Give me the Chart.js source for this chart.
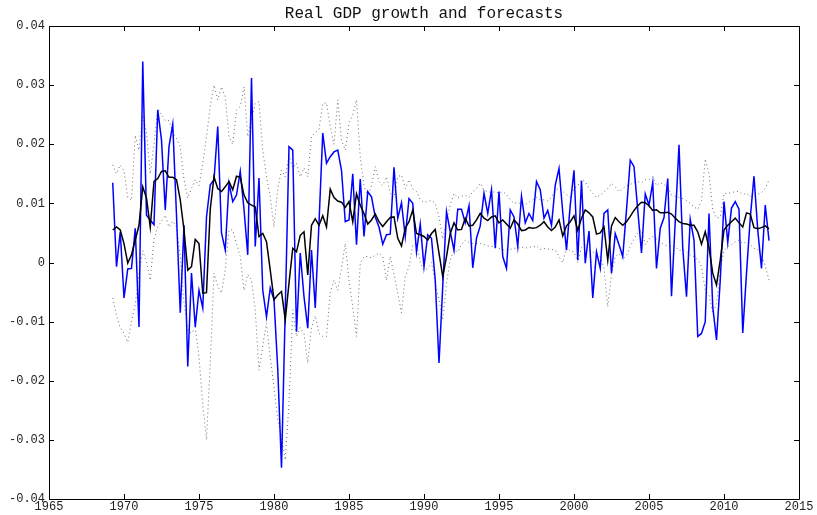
<!DOCTYPE html>
<html>
<head>
<meta charset="utf-8">
<script src="https://cdn.jsdelivr.net/npm/chart.js@4/dist/chart.umd.min.js"></script>
<style>
  html, body { margin: 0; padding: 0; background: #fff; }
  #wrap { width: 817px; height: 515px; }
</style>
</head>
<body>
<div id="wrap"><canvas id="c" width="817" height="515"></canvas></div>
<script>
// Quarterly real GDP growth (log-difference), 1969Q2 - 2013Q1
const startYear = 1969.25;
const quarterStep = 0.25;

const actual = [
  0.0135, -0.0007, 0.0052, -0.006, -0.0011, -0.001, 0.0058, -0.0109, 0.034, 0.008,
  0.0072, 0.0064, 0.0258, 0.0207, 0.0089, 0.0196, 0.0234, 0.008, -0.0085, 0.0063,
  -0.0176, -0.0018, -0.0109, -0.0047, -0.0077, 0.0077, 0.0131, 0.014, 0.023, 0.005,
  0.0021, 0.0134, 0.0103, 0.0114, 0.0154, 0.009, 0.0013, 0.0312, 0.0027, 0.0143,
  -0.0047, -0.0092, -0.0043, -0.0063, -0.018, -0.0347, -0.008, 0.0196, 0.019, -0.0117,
  0.0016, -0.0058, -0.0111, 0.0021, -0.0077, 0.0067, 0.0219, 0.0168, 0.0179, 0.0187,
  0.019, 0.0156, 0.0069, 0.0072, 0.015, 0.003, 0.0141, 0.0044, 0.012, 0.0111,
  0.0077, 0.006, 0.0031, 0.0047, 0.0048, 0.0161, 0.0075, 0.0101, 0.0044, 0.0108,
  0.01, 0.0018, 0.0065, -0.0007, 0.0047, 0.0041, -0.003, -0.017, -0.004, 0.0086,
  0.0052, 0.0021, 0.009, 0.009, 0.0067, 0.0096, -0.0009, 0.0041, 0.0062, 0.0117,
  0.0083, 0.0123, 0.0024, 0.012, 0.001, -0.001, 0.0089, 0.0077, 0.0027, 0.0112,
  0.0067, 0.0083, 0.0071, 0.0137, 0.0123, 0.0075, 0.0088, 0.0063, 0.0131, 0.0159,
  0.0085, 0.0021, 0.0097, 0.0156, 0.0004, 0.0138, -0.0001, 0.0053, -0.006, 0.0018,
  -0.001, 0.0083, 0.0089, -0.0018, 0.0049, 0.003, 0.001, 0.0089, 0.0173, 0.0162,
  0.0089, 0.0016, 0.0116, 0.0097, 0.0135, -0.001, 0.0058, 0.0076, 0.0142, -0.0057,
  0.007, 0.0199, 0.0024, -0.0058, 0.0073, 0.0038, -0.0125, -0.012, -0.01, 0.0083,
  -0.0075, -0.0131, -0.003, 0.0103, 0.0034, 0.0092, 0.0103, 0.009, -0.0119, -0.0018,
  0.0075, 0.0146, 0.0055, -0.001, 0.0097, 0.0037
];

const forecast = [
  0.0055, 0.006, 0.0055, 0.0032, -0.0001, 0.0013, 0.0038, 0.0063, 0.0128, 0.0109,
  0.006, 0.0137, 0.0142, 0.0154, 0.0155, 0.0144, 0.0144, 0.014, 0.0106, 0.0055,
  -0.0013, -0.0007, 0.0039, 0.0032, -0.0052, -0.0051, 0.009, 0.0145, 0.0125, 0.012,
  0.0128, 0.0137, 0.0123, 0.0146, 0.0144, 0.0114, 0.0101, 0.0097, 0.0094, 0.0044,
  0.0049, 0.0035, -0.0013, -0.0063, -0.0055, -0.0049, -0.0097, -0.0035, 0.0024, 0.0018,
  0.0046, 0.0052, -0.0021, 0.0063, 0.0074, 0.0063, 0.0079, 0.006, 0.0124, 0.011,
  0.0104, 0.0102, 0.0093, 0.0103, 0.0069, 0.0116, 0.0097, 0.0083, 0.0065, 0.0072,
  0.0082, 0.0069, 0.0061, 0.0069, 0.0076, 0.0077, 0.0041, 0.0028, 0.0058, 0.0069,
  0.0089, 0.0049, 0.0047, 0.0044, 0.0038, 0.0049, 0.0056, 0.0016, -0.0024, 0.001,
  0.0049, 0.0067, 0.0055, 0.0056, 0.0075, 0.0062, 0.0063, 0.0072, 0.0083, 0.0075,
  0.0071, 0.0077, 0.0079, 0.0067, 0.0072, 0.0065, 0.0058, 0.0072, 0.0065, 0.0054,
  0.0055, 0.0059, 0.0058, 0.0059, 0.0063, 0.0069, 0.006, 0.0054, 0.006, 0.0072,
  0.0045, 0.0062, 0.0069, 0.0079, 0.0054, 0.0075, 0.0089, 0.0084, 0.0077, 0.0048,
  0.005, 0.006, 0.0004, 0.0062, 0.0076, 0.0069, 0.0063, 0.0069, 0.0078, 0.0088,
  0.0096, 0.0102, 0.0101, 0.0096, 0.0088, 0.0089, 0.0084, 0.0084, 0.0085, 0.0082,
  0.0075, 0.0069, 0.0066, 0.0065, 0.0063, 0.0063, 0.0052, 0.0031, 0.0052, 0.0025,
  -0.0018, -0.0038, 0.0004, 0.0055, 0.0063, 0.0069, 0.0075, 0.0067, 0.006, 0.0084,
  0.0082, 0.0059, 0.0057, 0.0059, 0.0062, 0.0057
];

const upperBand = [
  0.0165, 0.015, 0.0165, 0.0155, 0.011, 0.0105, 0.0215, 0.019, 0.025, 0.022,
  0.015, 0.02, 0.026, 0.025, 0.024, 0.024, 0.022, 0.021, 0.0196, 0.014,
  0.0109, 0.0125, 0.014, 0.013, 0.0168, 0.0213, 0.0264, 0.03, 0.0275, 0.0297,
  0.028, 0.0213, 0.02, 0.0258, 0.0264, 0.0297, 0.0213, 0.024, 0.0269, 0.0272,
  0.019, 0.0145, 0.0111, 0.006, 0.0125, 0.0156, 0.0145, 0.018, 0.016, 0.0168,
  0.0145, 0.016, 0.0145, 0.0213, 0.022, 0.0225, 0.0269, 0.027, 0.023, 0.02,
  0.0275, 0.0207, 0.019, 0.0235, 0.025, 0.0275, 0.0179, 0.013, 0.0111, 0.013,
  0.0162, 0.0137, 0.013, 0.0145, 0.0117, 0.011, 0.0145, 0.0148, 0.0125, 0.014,
  0.0125, 0.012, 0.0106, 0.0102, 0.0103, 0.0105, 0.01, 0.0077, 0.004, 0.007,
  0.0097, 0.0117, 0.011, 0.0112, 0.0114, 0.011, 0.012, 0.0125, 0.0134, 0.0122,
  0.012, 0.0118, 0.012, 0.0117, 0.012, 0.0115, 0.0106, 0.01, 0.0102, 0.0097,
  0.0098, 0.0102, 0.0106, 0.011, 0.0106, 0.0106, 0.0104, 0.011, 0.0123, 0.0125,
  0.012, 0.0115, 0.011, 0.0125, 0.013, 0.014, 0.0137, 0.0125, 0.0117, 0.011,
  0.0114, 0.012, 0.0125, 0.0134, 0.0128, 0.012, 0.0125, 0.013, 0.0132, 0.0135,
  0.0137, 0.0135, 0.014, 0.014, 0.0145, 0.013, 0.0135, 0.0132, 0.0128, 0.0114,
  0.0112, 0.011, 0.0108, 0.0105, 0.01, 0.0094, 0.009, 0.0105, 0.0175, 0.015,
  0.009, 0.0075, 0.0077, 0.0117, 0.0117, 0.0118, 0.012, 0.012, 0.0115, 0.0117,
  0.0112, 0.0112, 0.0115, 0.0118, 0.0125, 0.014
];

const lowerBand = [
  -0.006, -0.009, -0.011, -0.012, -0.0135, -0.01, -0.007, -0.002, 0.002, 0.0,
  -0.003, 0.004, 0.006, 0.007, 0.008, 0.006, 0.007, 0.006, 0.001, -0.0069,
  -0.0114, -0.012, -0.011, -0.016, -0.024, -0.03, -0.017, -0.0018, -0.004, -0.0052,
  -0.0013, 0.0055, 0.0055, 0.0032, 0.001, -0.0047, -0.002, -0.003, -0.008, -0.0182,
  -0.014, -0.0103, -0.016, -0.021, -0.0266, -0.0295, -0.0334, -0.0238, -0.008, -0.0125,
  -0.011, -0.012, -0.017, -0.011, -0.009, -0.012, -0.0125, -0.0125, -0.005, -0.003,
  -0.0047, -0.001, 0.0032, -0.003, -0.0075, -0.0125, -0.0001, 0.001, 0.001, 0.0008,
  0.0012, 0.0016, 0.001, -0.003, 0.001, -0.002, -0.0052, -0.0085, -0.0024, -0.0007,
  0.003, 0.0032, 0.0, -0.0013, -0.001, 0.0, -0.0035, -0.0063, -0.0097, -0.0035,
  0.0004, 0.0021, 0.0018, 0.003, 0.0038, 0.0034, 0.0032, 0.0032, 0.0032, 0.003,
  0.0028, 0.0027, 0.0028, 0.0024, 0.0022, 0.0021, 0.0022, 0.0024, 0.0024, 0.0026,
  0.0024, 0.0026, 0.0026, 0.0028, 0.0022, 0.0024, 0.0023, 0.0022, 0.0021, 0.001,
  0.0, 0.0025, 0.002, 0.0018, 0.0, 0.0025, 0.003, 0.0022, 0.0018, 0.0015,
  0.001, -0.001, -0.0075, -0.002, 0.001, 0.0015, 0.0005, 0.0012, 0.0027, 0.004,
  0.005, 0.0055, 0.003, 0.004, 0.0044, 0.004, 0.0035, 0.003, 0.0028, 0.0027,
  0.0027, 0.002, 0.0022, 0.0018, 0.0012, 0.001, 0.0005, -0.0007, -0.0047, -0.0055,
  -0.0086, -0.007, -0.0013, 0.002, 0.0027, 0.003, 0.0035, 0.0038, 0.0032, 0.0035,
  0.003, 0.0024, 0.0022, 0.0012, -0.0005, -0.003
];

const xTicks = [1965, 1970, 1975, 1980, 1985, 1990, 1995, 2000, 2005, 2010, 2015];
const yTicks = [-0.04, -0.03, -0.02, -0.01, 0, 0.01, 0.02, 0.03, 0.04];

const quarters = actual.map((_, i) => startYear + i * quarterStep);
const toPoints = arr => arr.map((v, i) => ({ x: quarters[i], y: v }));

const MONO = "'Liberation Mono', 'DejaVu Sans Mono', monospace";

// Box frame plus inward-pointing tick marks on all four sides
const frameTicks = {
  id: 'frameTicks',
  afterDraw(chart) {
    const { ctx, chartArea: a, scales: { x, y } } = chart;
    const len = 5;
    ctx.save();
    ctx.strokeStyle = '#000';
    ctx.lineWidth = 1;
    ctx.beginPath();
    ctx.rect(Math.round(a.left) + 0.5, Math.round(a.top) + 0.5,
             Math.round(a.right - a.left), Math.round(a.bottom - a.top));
    ctx.stroke();
    ctx.beginPath();
    xTicks.forEach(t => {
      const px = Math.round(x.getPixelForValue(t)) + 0.5;
      ctx.moveTo(px, a.bottom); ctx.lineTo(px, a.bottom - len);
      ctx.moveTo(px, a.top); ctx.lineTo(px, a.top + len);
    });
    yTicks.forEach(t => {
      const py = Math.round(y.getPixelForValue(t)) + 0.5;
      ctx.moveTo(a.left, py); ctx.lineTo(a.left + len, py);
      ctx.moveTo(a.right, py); ctx.lineTo(a.right - len, py);
    });
    ctx.stroke();
    ctx.restore();
  }
};

new Chart(document.getElementById('c'), {
  type: 'line',
  data: {
    datasets: [
      {
        label: 'Forecast',
        data: toPoints(forecast),
        borderColor: '#000000',
        borderWidth: 1.5,
        pointRadius: 0,
        tension: 0,
        order: 0
      },
      {
        label: 'Actual',
        data: toPoints(actual),
        borderColor: '#0000ff',
        borderWidth: 1.5,
        pointRadius: 0,
        tension: 0,
        order: 1
      },
      {
        label: 'Upper band',
        data: toPoints(upperBand),
        borderColor: 'rgba(60,60,60,0.75)',
        borderWidth: 1,
        borderDash: [1, 3],
        pointRadius: 0,
        tension: 0,
        order: 2
      },
      {
        label: 'Lower band',
        data: toPoints(lowerBand),
        borderColor: 'rgba(60,60,60,0.75)',
        borderWidth: 1,
        borderDash: [1, 3],
        pointRadius: 0,
        tension: 0,
        order: 3
      }
    ]
  },
  options: {
    responsive: false,
    animation: false,
    devicePixelRatio: 1,
    layout: { padding: { left: 0, right: 18, top: 0, bottom: 0 } },
    plugins: {
      legend: { display: false },
      tooltip: { enabled: false },
      title: {
        display: true,
        fullSize: false,
        text: 'Real GDP growth and forecasts',
        color: '#111',
        font: { family: MONO, size: 16, weight: 'normal', lineHeight: 1.2 },
        padding: { top: 4, bottom: 2.8 }
      }
    },
    scales: {
      x: {
        type: 'linear',
        min: 1965,
        max: 2015,
        afterBuildTicks(scale) { scale.ticks = xTicks.map(v => ({ value: v })); },
        afterFit(scale) { scale.height = 16; },
        grid: { display: false, drawTicks: false },
        border: { display: false },
        ticks: {
          padding: 1,
          color: '#222',
          font: { family: MONO, size: 12 },
          maxRotation: 0,
          autoSkip: false,
          callback: v => String(v)
        }
      },
      y: {
        type: 'linear',
        min: -0.04,
        max: 0.04,
        afterBuildTicks(scale) { scale.ticks = yTicks.map(v => ({ value: v })); },
        afterFit(scale) { scale.width = 49; },
        grid: { display: false, drawTicks: false },
        border: { display: false },
        ticks: {
          padding: 4,
          color: '#222',
          font: { family: MONO, size: 12 },
          autoSkip: false,
          callback: v => (Math.abs(v) < 1e-9 ? '0' : Number(v).toFixed(2))
        }
      }
    }
  },
  plugins: [frameTicks]
});
</script>
</body>
</html>
